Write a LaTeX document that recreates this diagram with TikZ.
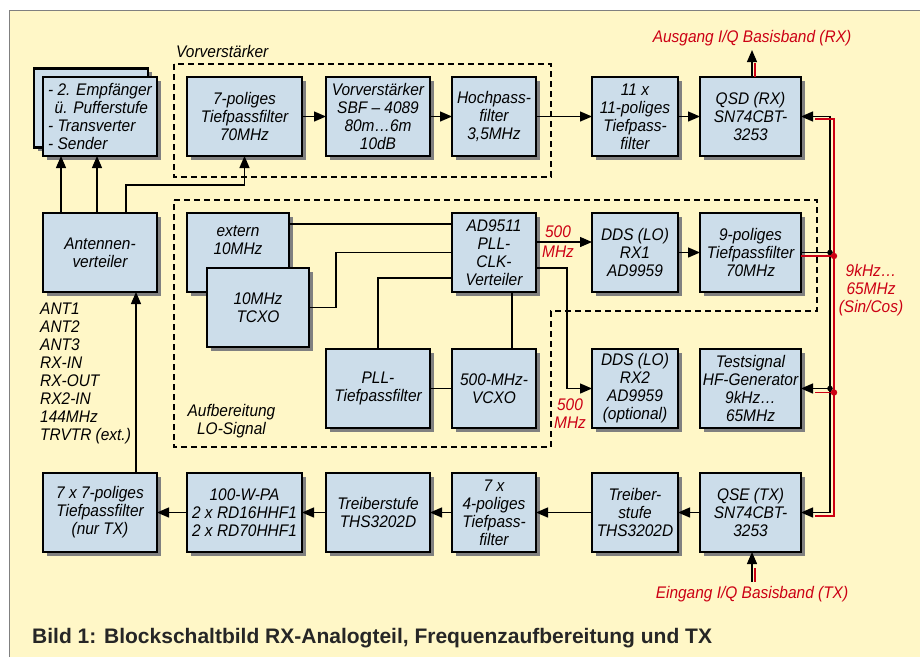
\documentclass[tikz,border=0pt]{standalone}
\usepackage{fontspec}
\setmainfont{Liberation Sans}[FakeStretch=0.92]
\newfontfamily\capfont{Liberation Sans}
\usetikzlibrary{arrows.meta,positioning,shadows}
\definecolor{panel}{RGB}{255,247,199}
\definecolor{boxfill}{RGB}{204,221,234}
\definecolor{sigred}{RGB}{204,0,20}
\definecolor{frame}{RGB}{128,128,128}
\newcommand{\lbl}{\fontsize{16.8}{18}\selectfont\itshape}

\begin{document}
\begin{tikzpicture}[
      x=1pt, y=-1pt,
      >={Triangle[length=12pt,width=10pt]}, font=\lbl,
      blk/.style={draw, line width=2.4pt, fill=boxfill, align=center,
                  minimum width=#1, minimum height=79pt, inner sep=0pt, outer sep=0pt,
                  drop shadow={shadow xshift=3.5pt, shadow yshift=-3.5pt,
                               fill=black!50, opacity=1}},
      blk/.default=84pt,
      conn/.style={line width=1.3pt},
      sig/.style={line width=1.3pt, sigred},
      zone/.style={line width=1.3pt, dash pattern=on 6pt off 4pt},
      txt/.style={inner sep=0pt},
      redtxt/.style={inner sep=0pt, text=sigred},
    ]
    \useasboundingbox (0,0) rectangle (920,657);
    % background panel
    \fill[white] (0,0) rectangle (920,657);
    \fill[panel] (9,10) rectangle (920,657);
    \draw[frame, line width=1pt] (9,657) -- (9,10) -- (920,10);

    % dashed zones
    \draw[zone] (174,64) rectangle (551,177);
    \draw[zone] (174,200) -- (817,200) -- (817,311) -- (551,311) -- (551,447)
      -- (174,447) -- cycle;

    % RX path (top)
    \node[blk=114pt] (empb) at (91,108) {};
    \node[blk=114pt, align=left] (emp) at (100,116.5)
      {- 2. Empfänger\\\hspace*{6.5pt}ü. Pufferstufe\\- Transverter\\- Sender};
    \node[blk=115pt] (tp7) at (244.5,116.5) {7-poliges\\Tiefpassfilter\\70MHz};
    \node[blk=104pt, right=24pt of tp7] (vorv) {Vorverstärker\\SBF – 4089\\80m…6m\\10dB};
    \node[blk, right=22pt of vorv] (hp) {Hochpass-\\filter\\3,5MHz};
    \node[blk=86pt, right=56pt of hp] (tp11) {11 x\\11-poliges\\Tiefpass-\\filter};
    \node[blk=101pt, right=22pt of tp11] (qsd) {QSD (RX)\\SN74CBT-\\3253};

    % LO generation
    \node[blk=114pt] (antv) at (100,252.5) {Antennen-\\verteiler};
    \node[blk=102pt, label={[align=center, yshift=12pt]center:{extern\\10MHz}}]
      (ext) at (238,252.5) {};
    \node[blk=102pt] (tcxo) at (258,307.5) {10MHz\\TCXO};
    \node[blk, below=57pt of hp] (ad) {AD9511\\PLL-\\CLK-\\Verteiler};
    \node[blk=86pt, below=57pt of tp11] (ddsa) {DDS (LO)\\RX1\\AD9959};
    \node[blk=101pt, below=57pt of qsd] (tp9) {9-poliges\\Tiefpassfilter\\70MHz};
    \node[blk, below=57pt of ad] (vcxo) {500-MHz-\\VCXO};
    \node[blk=104pt, left=22pt of vcxo] (plltp) {PLL-\\Tiefpassfilter};
    \node[blk=86pt, below=57pt of ddsa] (ddsb) {DDS (LO)\\RX2\\AD9959\\(optional)};
    \node[blk=101pt, below=57pt of tp9] (test) {Testsignal\\HF-Generator\\9kHz…\\65MHz};

    % TX path (bottom)
    \node[blk, below=45pt of vcxo] (tp4) {7 x\\4-poliges\\Tiefpass-\\filter};
    \node[blk=86pt, below=45pt of ddsb] (drvb) {Treiber-\\stufe\\THS3202D};
    \node[blk=101pt, below=45pt of test] (qse) {QSE (TX)\\SN74CBT-\\3253};
    \node[blk=104pt, below=45pt of plltp] (drv) {Treiberstufe\\THS3202D};
    \node[blk=115pt, left=24pt of drv] (pa) {100-W-PA\\2 x RD16HHF1\\2 x RD70HHF1};
    \node[blk=114pt, left=30pt of pa] (tp77) {7 x 7-poliges\\Tiefpassfilter\\(nur TX)};

    % labels
    \node[txt, anchor=west] (vvlbl) at (176,51) {Vorverstärker};
    \node[txt, align=center] (lolbl) at (231.5,421) {Aufbereitung\\LO-Signal};
    \node[txt, align=left, anchor=west] (antlist) at (40,373)
      {ANT1\\ANT2\\ANT3\\RX-IN\\RX-OUT\\RX2-IN\\144MHz\\TRVTR (ext.)};
    \node[redtxt, inner sep=4pt] (ausg) at (752,38) {Ausgang I/Q Basisband (RX)};
    \node[redtxt, inner sep=4pt] (eing) at (752,594) {Eingang I/Q Basisband (TX)};
    \node[redtxt, align=center, font=\fontsize{16.8}{20}\selectfont\itshape] (fa)
      at (558,242) {500\\MHz};
    \node[redtxt, align=center] (fb) at (570,414) {500\\MHz};
    \node[redtxt, align=center] (fsin) at (871,290) {9kHz…\\65MHz\\(Sin/Cos)};
    \node[txt, anchor=base west, text=black!85,
          font=\capfont\fontsize{21}{24}\selectfont\bfseries] (cap) at (32,643)
      {Bild 1: Blockschaltbild RX-Analogteil, Frequenzaufbereitung und TX};

    % arrows RX
    \draw[conn, ->] ([xshift=-39pt]antv.north) -- ([xshift=-39pt]antv.north |- emp.south);
    \draw[conn, ->] ([xshift=-3pt]antv.north) -- ([xshift=-3pt]antv.north |- emp.south);
    \draw[conn, ->] ([xshift=26pt]antv.north) -- ++(0,-28) -| (tp7.south);
    \draw[conn, ->] (tp7) -- (vorv);
    \draw[conn, ->] (vorv) -- (hp);
    \draw[conn, ->] (hp) -- (tp11);
    \draw[conn, ->] (tp11) -- (qsd);
    \draw[conn, ->] ([xshift=1.5pt]qsd.north) -- ([xshift=1.5pt]qsd.north |- ausg.south);
    \draw[sig] ([xshift=4.5pt]qsd.north) -- ++(0,-14);

    % arrows LO
    \draw[conn] ([yshift=28.5pt]ext.east) -- ([yshift=28.5pt]ext.east -| ad.west);
    \draw[conn] (tcxo.east) -- ++(27,0) |- (ad.west);
    \draw[conn] (plltp.north) |- ([yshift=-25.5pt]ad.west);
    \draw[conn] ([xshift=18pt]vcxo.north) -- ([xshift=18pt]ad.south);
    \draw[conn] (plltp) -- (vcxo);
    \draw[conn, ->] ([yshift=10.5pt]ad.east) -- ([yshift=10.5pt]ad.east -| ddsa.west);
    \draw[conn, ->] ([yshift=-15.5pt]ad.east) -- ++(31,0) |- (ddsb.west);
    \draw[conn, ->] (ddsa) -- (tp9);

    % Sin/Cos bus
    \coordinate (busk) at ([xshift=29pt]qsd.east);
    \draw[conn, <->] (qsd.east) -- (busk) -- (busk |- qse.east) -- (qse.east);
    \draw[sig] ([xshift=14pt,yshift=-2.5pt]qsd.east)
      -| ([xshift=33pt,yshift=-3.5pt]qse.east) -- ([xshift=14pt,yshift=-3.5pt]qse.east);
    \draw[conn] (tp9.east) -- (busk |- tp9.east);
    \fill (busk |- tp9.east) circle (2.8pt);
    \draw[sig] ([yshift=-3.5pt]tp9.east) -- ++(33,0) coordinate (dra);
    \fill[sigred] (dra) circle (3.2pt);
    \draw[conn, ->] (busk |- test.east) -- (test.east);
    \fill (busk |- test.east) circle (2.8pt);
    \draw[sig] ([xshift=33pt,yshift=-4pt]test.east) coordinate (drb) -- ++(-19,0);
    \fill[sigred] (drb) circle (3.2pt);

    % arrows TX
    \draw[conn, ->] ([xshift=1.5pt]qse.south |- eing.north) -- ([xshift=1.5pt]qse.south);
    \draw[sig] ([xshift=4.5pt]qse.south |- eing.north) -- ++(0,-14);
    \draw[conn, ->] (qse) -- (drvb);
    \draw[conn, ->] (drvb) -- (tp4);
    \draw[conn, ->] (tp4) -- (drv);
    \draw[conn, ->] (drv) -- (pa);
    \draw[conn, ->] (pa) -- (tp77);
    \draw[conn, ->] ([xshift=36pt]tp77.north) -- ([xshift=36pt]tp77.north |- antv.south);
  \end{tikzpicture}
\end{document}
